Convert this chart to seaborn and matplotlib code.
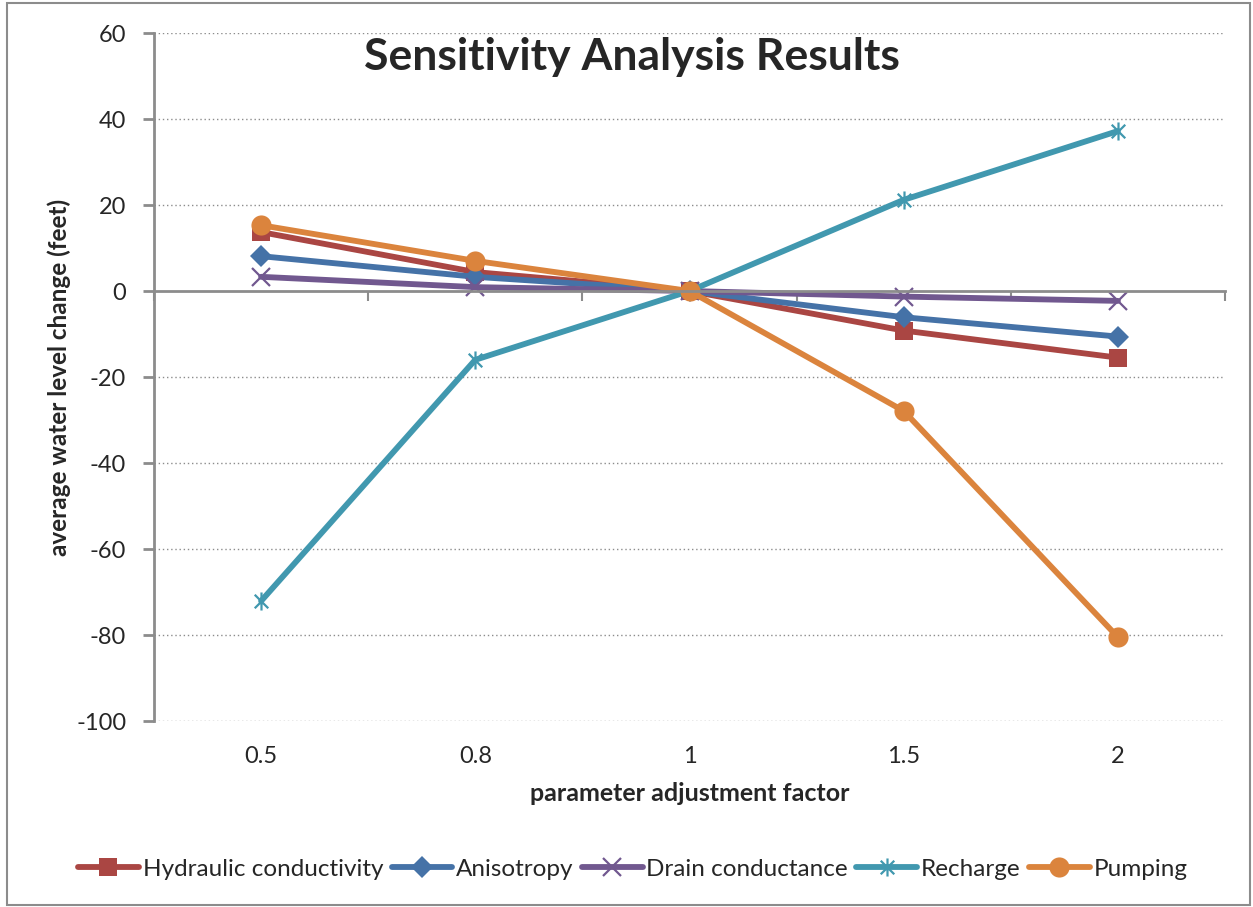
import numpy as np
import pandas as pd
import matplotlib
matplotlib.use("Agg")
import matplotlib.pyplot as plt
import seaborn as sns
from matplotlib.path import Path
from matplotlib.patches import Rectangle

# ---------------- data ----------------
factors = ["0.5", "0.8", "1", "1.5", "2"]
hydraulic = [13.7, 4.4, 0.0, -9.2, -15.5]
anisotropy = [8.1, 3.3, 0.0, -6.1, -10.6]
drain = [3.3, 0.9, 0.0, -1.3, -2.3]
recharge = [-72.1, -16.0, 0.0, 21.2, 37.2]
pumping = [15.3, 7.0, 0.0, -27.9, -80.5]
series_names = ["Hydraulic conductivity", "Anisotropy", "Drain conductance",
                "Recharge", "Pumping"]
yticks = [-100, -80, -60, -40, -20, 0, 20, 40, 60]

# ---------------- style ----------------
sns.set_style("white")
plt.rcParams['font.family'] = ['Lato', 'DejaVu Sans']

colors = ["#AA4643", "#4572A7", "#71588F", "#4198AF", "#DB843D"]
star = Path([(0, -1), (0, 1), (-0.75, -0.75), (0.75, 0.75), (-0.75, 0.75), (0.75, -0.75)],
            [Path.MOVETO, Path.LINETO, Path.MOVETO, Path.LINETO, Path.MOVETO, Path.LINETO])
markers = ["s", "D", "x", star, "o"]
msizes = [12.5, 11, 12.5, 13, 14.5]
filled = [True, True, False, False, True]

values = [hydraulic, anisotropy, drain, recharge, pumping]
rows = []
for name, vals in zip(series_names, values):
    for i, v in enumerate(vals):
        rows.append({"pos": i, "factor": factors[i], "series": name, "value": v})
df = pd.DataFrame(rows)

fig = plt.figure(figsize=(12.53, 9.07), dpi=100)
ax = fig.add_axes([154 / 1253, 1 - 721 / 907, (1225 - 154) / 1253, (721 - 33) / 907])

for name, c, m, ms, f in zip(series_names, colors, markers, msizes, filled):
    sub = df[df["series"] == name]
    sns.lineplot(data=sub, x="pos", y="value", ax=ax, color=c, linewidth=4.2,
                 marker=m, markersize=ms, markeredgecolor=c,
                 markeredgewidth=(0 if f else 1.6), label=name)

ax.set_xlim(-0.5, len(factors) - 0.5)
ax.set_ylim(-100, 60)
ax.set_yticks(yticks)
ax.set_yticklabels([str(t) for t in yticks], fontsize=17)
for t in yticks:
    if t != 0:
        ax.axhline(t, color="#8C8C8C", linestyle=(0, (1, 2)), linewidth=1.0, zorder=0)

gray = "#8C8C8C"
for s in ["top", "right"]:
    ax.spines[s].set_visible(False)
ax.spines["left"].set_color(gray)
ax.spines["left"].set_linewidth(2)
ax.spines["bottom"].set_position(("data", 0))
ax.spines["bottom"].set_color(gray)
ax.spines["bottom"].set_linewidth(2)
ax.tick_params(axis="y", direction="out", length=8, width=2, color=gray, pad=12,
               left=True)

# tick marks between categories on the zero line
ax.set_xticks(np.arange(-0.5, len(factors), 1.0))
ax.set_xticklabels([])
ax.tick_params(axis="x", direction="out", length=7, width=1.5, color=gray, bottom=True)

# category labels at the bottom
sec = ax.secondary_xaxis("bottom")
sec.set_xticks(range(len(factors)))
sec.set_xticklabels(factors, fontsize=17)
sec.tick_params(length=0, pad=18)
sec.spines["bottom"].set_visible(False)

ax.set_xlabel("")
sec.set_xlabel("parameter adjustment factor", fontsize=18, fontweight="bold", labelpad=11)
ax.set_ylabel("average water level change (feet)", fontsize=17.5, fontweight="bold",
              labelpad=4)

ax.text(0.446, 0.965, "Sensitivity Analysis Results", transform=ax.transAxes,
        ha="center", va="center", fontsize=32, fontweight="bold")

leg = ax.legend(loc="center", bbox_to_anchor=(0.505, 1 - 869 / 907), bbox_transform=fig.transFigure,
                ncol=5, frameon=False, fontsize=17.5, handlelength=2.5, handletextpad=0.15,
                columnspacing=0.35, numpoints=1)

fig.patches.append(Rectangle((7 / 1253, 2 / 907), 1243 / 1253, 902 / 907,
                             transform=fig.transFigure, fill=False,
                             edgecolor="#8C8C8C", linewidth=1.5))

fig.savefig("out.png", dpi=100)
